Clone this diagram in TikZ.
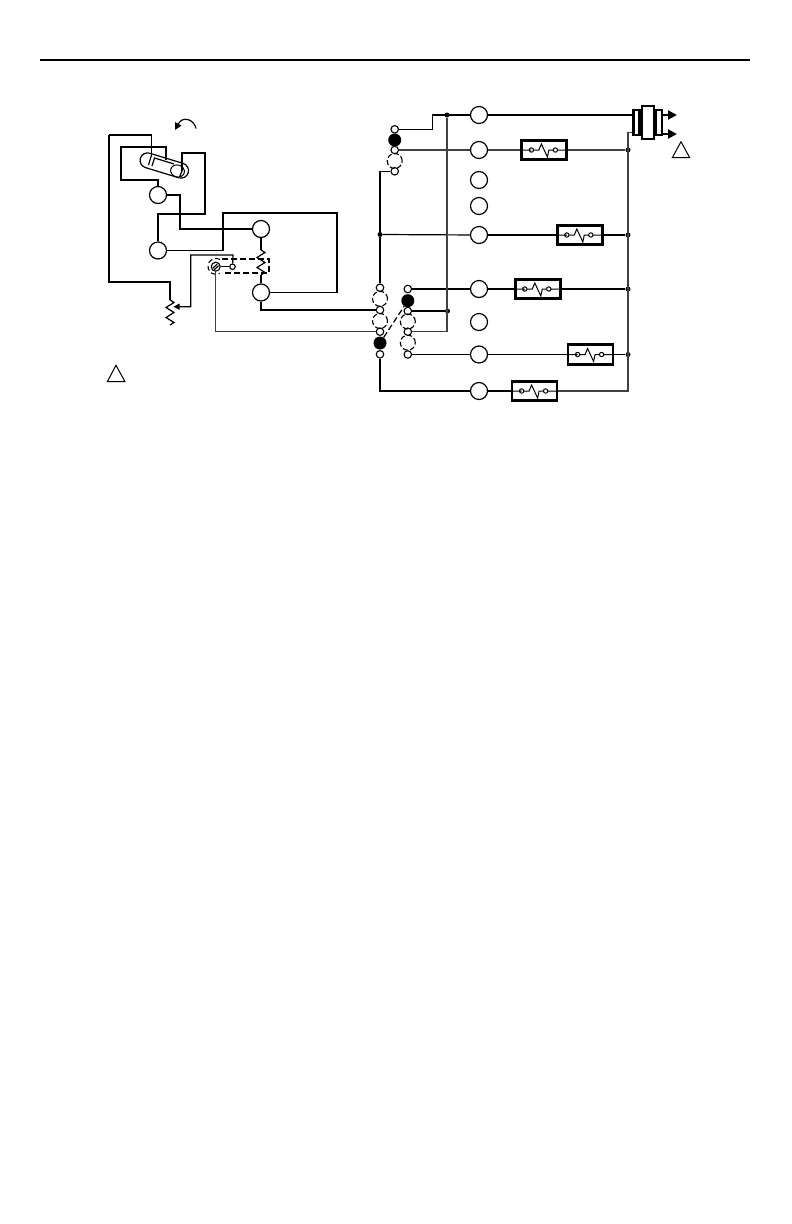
\documentclass[tikz,border=0pt]{standalone}
\usepackage{amsmath}
\usepackage{xcolor}
\usetikzlibrary{arrows.meta,shapes.misc,shapes.geometric}
\tikzset{
	wire/.style={line width=1.2pt},
	heavy/.style={line width=1.8pt},
	bus/.style={line width=1.5pt,black!75},
	term/.style={circle,draw,line width=1.2pt,minimum size=17pt,inner sep=0pt},
	contact/.style={circle,draw,line width=1.1pt,minimum size=7.5pt,inner sep=0pt},
	solid contact/.style={circle,fill=black,minimum size=13pt,inner sep=0pt},
	open contact/.style={circle,draw,dash pattern=on 5pt off 2.5pt,line width=1.1pt,minimum size=15pt,inner sep=0pt},
	dot/.style={circle,fill=black,minimum size=5pt,inner sep=0pt},
	cutout/.style={rectangle,draw,line width=2.8pt,minimum width=45pt,minimum height=19.5pt,inner sep=0pt},
	plug/.style={rectangle,draw,line width=2.2pt,inner sep=0pt},
	res/.pic={\draw[wire] (0,0) -- ++(4,2.5) -- ++(-8,5) -- ++(8,5) -- ++(-8,5) -- ++(8,5) -- ++(-4,2.5);}
}
\begin{document}
\begin{tikzpicture}[x=1pt,y=-1pt]
		\useasboundingbox (0,0) rectangle (792,1224);
		\draw[line width=1.8pt] (40,60) -- (750,60);
		% left terminals
		\node[term] (t1) at (158,195) {};
		\node[term] (t2) at (158,250.5) {};
		\node[term] (t3) at (261,229) {};
		\node[term] (t4) at (261,292.5) {};
		% right terminals
		\node[term] (r1) at (479,115) {};
		\node[term] (r2) at (479,150) {};
		\node[term] (r3) at (479,180) {};
		\node[term] (r4) at (479,206) {};
		\node[term] (r5) at (479,235) {};
		\node[term] (r6) at (479,289) {};
		\node[term] (r7) at (479,322) {};
		\node[term] (r8) at (479,354.5) {};
		\node[term] (r9) at (479,391) {};
		% contact stacks
		\node[contact] (a1) at (394.7,129.3) {};
		\node[solid contact] (a2) at (394.7,140) {};
		\node[contact] (a3) at (394.7,150) {};
		\node[open contact] (a4) at (394.7,161) {};
		\node[contact] (a5) at (394.7,171.3) {};
		\node[contact] (b1) at (380,287.7) {};
		\node[open contact] (b2) at (380,298.8) {};
		\node[contact] (b3) at (380,310) {};
		\node[open contact] (b4) at (380,321) {};
		\node[contact] (b5) at (380,331.7) {};
		\node[solid contact] (b6) at (380,343) {};
		\node[contact] (b7) at (380,354.3) {};
		\node[contact] (c1) at (407.8,289) {};
		\node[solid contact] (c2) at (407.8,300.7) {};
		\node[contact] (c3) at (407.8,311) {};
		\node[open contact] (c4) at (407.8,321.5) {};
		\node[contact] (c5) at (407.8,331.7) {};
		\node[open contact] (c6) at (407.8,342.7) {};
		\node[contact] (c7) at (407.8,354.5) {};
		\draw[wire,dash pattern=on 6pt off 3pt] (b6) -- (c2);
		% junction dots
		\node[dot] (d1) at (447,115) {};
		\node[dot] (d2) at (447.5,311) {};
		\node[dot] (d3) at (380,234.5) {};
		\node[dot] (d4) at (628,150) {};
		\node[dot] (d5) at (628,235) {};
		\node[dot] (d6) at (628,289) {};
		\node[dot] (d7) at (628,354.5) {};
		% cutouts
		\node[cutout] (f1) at (544.3,150) {};
		\node[cutout] (f2) at (579.7,235) {};
		\node[cutout] (f3) at (537.7,289) {};
		\node[cutout] (f4) at (590.5,354.5) {};
		\node[cutout] (f5) at (534.5,391) {};
		\foreach \fz in {f1,f2,f3,f4,f5}{
			\draw[line width=1pt] (\fz.west) -- ++(11,0) circle[radius=2.2pt] ++(2.2,0)
			-- ++(5.3,0) -- ++(2.5,-6) -- ++(6,13) -- ++(1.5,-7) -- ++(4.3,0) ++(2.2,0) circle[radius=2.2pt] ++(2.2,0) -- (\fz.east);
		}
		% plug
		\node[plug,minimum width=12.3pt,minimum height=33.3pt] (pm) at (647.8,122.7) {};
		\node[plug,minimum width=6pt,minimum height=24.7pt,anchor=east] (pl) at (pm.west) {};
		\node[plug,minimum width=6pt,minimum height=24.7pt,anchor=west] (pr) at (pm.east) {};
		\coordinate (o1) at (677,115);
		\coordinate (o2) at (677,134);
		\coordinate (bt) at (628,132.3);
		\draw[line width=2pt,-{Triangle[length=9pt,width=9pt]}] (pr.east |- o1) -- (o1);
		\draw[line width=2pt,-{Triangle[length=9pt,width=9pt]}] (pr.east |- o2) -- (o2);
		% right hand wiring
		\draw[wire] (r1) -- (pl.west |- r1);
		\draw[wire] (a1) -- (432.7,129.3) -- (432.7,115) -- (r1);
		\draw[bus] (a3) -- (r2);
		\draw[bus] (r2) -- (f1);
		\draw[bus] (f1) -- (d4);
		\draw[wire] (a5) -- (380,171.3) -- (d3) -- (b1);
		\draw[wire] (d3) -- (r5);
		\draw[heavy] (r5) -- (f2);
		\draw[heavy] (f2) -- (d5);
		\draw[heavy] (c1) -- (r6);
		\draw[wire] (r6) -- (f3) (f3) -- (d6);
		\draw[bus] (d1) -- (447,331.7) -- (c5);
		\draw[wire] (c3) -- (d2);
		\draw[wire] (c7) -- (r8);
		\draw[wire] (r8) -- (f4) (f4) -- (d7);
		\draw[wire] (b7) -- (380,391) -- (r9);
		\draw[wire] (r9) -- (f5);
		\draw[bus] (pl.west |- bt) -- (bt) -- (628,391) -- (f5);
		% left hand wiring
		\draw[wire] (t1) -- (180,195) -- (180,229) -- (t3);
		\draw[wire] (t2) -- (223,250.5) -- (223,213) -- (337,213) -- (337,292.5) -- (t4);
		\draw[wire] (t2) -- (158,214) -- (205,214) -- (205,153) -- (182,153) -- (182,171);
		\draw[wire] (t1) -- (158,180) -- (121,180) -- (121,147) -- (166,147) -- (166,160);
		\draw[wire] (109,135) -- (151.5,135) -- (151.5,155);
		\draw[wire] (151.5,155) -- (148.5,165);
		\draw[wire] (109,135) -- (109,282) -- (170,282) -- (170,300);
		\pic at (170,300) {res};
		\node[draw,line width=1.2pt,rounded rectangle,rotate=-17,minimum width=50pt,minimum height=15pt,inner sep=0pt] (bulb) at (164.3,165.5) {};
		\node[draw,line width=1pt,ellipse,rotate=-17,minimum width=14pt,minimum height=12pt,inner sep=0pt] (pool) at (177.5,171) {};
		\draw[wire] (152,166) -- (154.5,158) -- (174,164);
		\draw[wire] (182,171) -- (179.5,177);
		\draw[wire] (t3) -- (261,250);
		\pic at (261,250) {res};
		\draw[wire] (261,275) -- (t4);
		\draw[heavy] (t4) -- (261,310) -- (b3);
		% calibration screw
		\node[contact,minimum size=9pt] (sc) at (215.7,266.7) {};
		\node[contact,minimum size=5.5pt] (sw) at (232.5,266.7) {};
		\draw[wire] (sc.center) ++(-3,1.5) -- ++(4.5,-4) (sc.center) ++(-1.5,3) -- ++(4.5,-4);
		\draw[wire] (sc) -- (sw);
		\draw[line width=1.1pt,dash pattern=on 6pt off 3pt] (222,259) -- (269,259) -- (269,273) -- (222,273);
		\draw[line width=1.1pt,dash pattern=on 5pt off 3pt] (220,259.5) arc[start angle=60,end angle=300,radius=8pt];
		\coordinate (wip) at (173.5,306.7);
		\draw[wire,-{Triangle[length=6pt,width=6pt]}] (sw) -- (233,255) -- (190.7,255) -- (190.7,306.7) -- (wip);
		\draw[bus] (sc) -- (215.7,331.7) -- (b5);
		% rotation arrow
		\coordinate (ra) at (175,130);
		\draw[wire,-{Triangle[length=7pt,width=7pt]}] (196,128.5) .. controls (194.5,120) and (183,115) .. (ra);
		% note marks
		\draw[line width=1pt] (116,365.3) -- (107.3,381.7) -- (125,381.7) -- cycle;
		\draw[line width=1pt] (681,141.7) -- (672.3,157.7) -- (689.7,157.7) -- cycle;
	\end{tikzpicture}
\end{document}
